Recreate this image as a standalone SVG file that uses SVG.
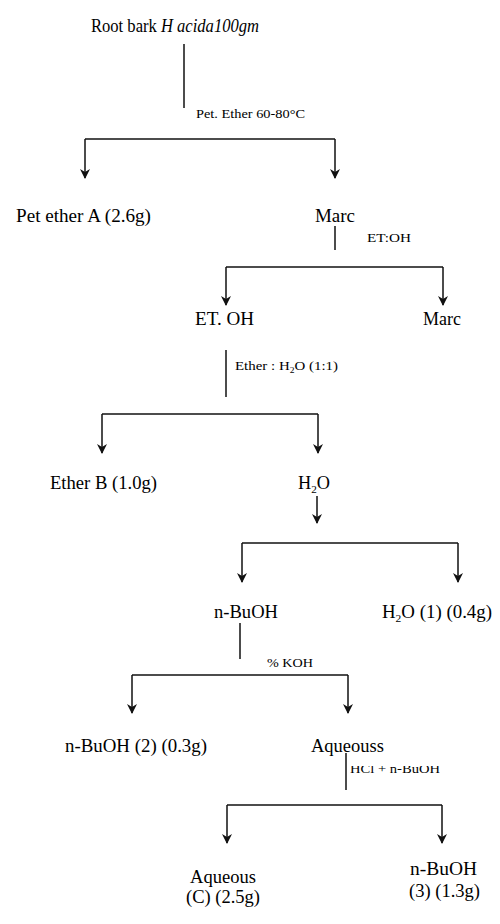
<svg xmlns="http://www.w3.org/2000/svg" width="500" height="924" viewBox="0 0 500 924">
<style>
  text { font-family: "Liberation Serif", "Times New Roman", serif; fill: #000; }
  .n { font-size: 18px; }
  .s { font-size: 12.5px; }
  .ln { stroke: #111; stroke-width: 1.5; fill: none; }
  .ar { stroke: #111; stroke-width: 1.5; fill: none; marker-end: url(#ah); }
</style>
<defs>
  <marker id="ah" markerUnits="userSpaceOnUse" viewBox="0 0 10 10" refX="9" refY="5" markerWidth="10" markerHeight="10" orient="auto">
    <path d="M0,0 L10,5 L0,10 L3,5 z" fill="#111"/>
  </marker>
  <clipPath id="clipHCl"><rect x="345" y="766" width="110" height="12"/></clipPath>
</defs>
<rect width="500" height="924" fill="#fff"/>
<g id="connectors">
  <path class="ln" d="M184,44 V108"/>
  <path class="ln" d="M85,139 H335"/>
  <path class="ar" d="M85,139 V178"/>
  <path class="ar" d="M335,139 V178"/>
  <path class="ln" d="M335,226 V250"/>
  <path class="ln" d="M226,267 H443"/>
  <path class="ar" d="M226,267 V305"/>
  <path class="ar" d="M443,267 V305"/>
  <path class="ln" d="M226,350 V397"/>
  <path class="ln" d="M102,414 H318"/>
  <path class="ar" d="M102,414 V453"/>
  <path class="ar" d="M318,414 V453"/>
  <path class="ar" d="M317,496 V523"/>
  <path class="ln" d="M242,543 H458"/>
  <path class="ar" d="M242,543 V582"/>
  <path class="ar" d="M458,543 V582"/>
  <path class="ln" d="M240,623 V659"/>
  <path class="ln" d="M132,675 H348"/>
  <path class="ar" d="M132,675 V713"/>
  <path class="ar" d="M348,675 V713"/>
  <path class="ln" d="M346,753 V790"/>
  <path class="ln" d="M227,805 H442"/>
  <path class="ar" d="M227,805 V843"/>
  <path class="ar" d="M442,805 V843"/>
</g>
<g id="labels">
  <text class="s" x="196" y="118" textLength="109" lengthAdjust="spacingAndGlyphs">Pet. Ether 60-80°C</text>
  <text class="s" x="367" y="242" textLength="44" lengthAdjust="spacingAndGlyphs">ET:OH</text>
  <text class="s" x="235" y="370" textLength="103" lengthAdjust="spacingAndGlyphs">Ether : H<tspan font-size="8" dy="3">2</tspan><tspan dy="-3">O  (1:1)</tspan></text>
  <text class="s" x="267" y="667" textLength="46" lengthAdjust="spacingAndGlyphs">% KOH</text>
  <text class="s" x="350" y="773" textLength="90" lengthAdjust="spacingAndGlyphs" clip-path="url(#clipHCl)">HCl + n-BuOH</text>
</g>
<g id="root"><text class="n" x="91" y="32" textLength="168" lengthAdjust="spacingAndGlyphs">Root bark <tspan font-style="italic">H acida100gm</tspan></text></g>
<g id="petA"><text class="n" x="16" y="222" textLength="135" lengthAdjust="spacingAndGlyphs">Pet ether A (2.6g)</text></g>
<g id="marc1"><text class="n" x="315" y="222" textLength="40" lengthAdjust="spacingAndGlyphs">Marc</text></g>
<g id="etoh"><text class="n" x="195" y="325" textLength="59" lengthAdjust="spacingAndGlyphs">ET. OH</text></g>
<g id="marc2"><text class="n" x="423" y="325" textLength="38" lengthAdjust="spacingAndGlyphs">Marc</text></g>
<g id="etherB"><text class="n" x="50" y="489" textLength="107" lengthAdjust="spacingAndGlyphs">Ether B (1.0g)</text></g>
<g id="h2o"><text class="n" x="298" y="489" textLength="32" lengthAdjust="spacingAndGlyphs">H<tspan font-size="11" dy="4">2</tspan><tspan dy="-4">O</tspan></text></g>
<g id="nbuoh"><text class="n" x="214" y="618" textLength="64" lengthAdjust="spacingAndGlyphs">n-BuOH</text></g>
<g id="h2o1"><text class="n" x="382" y="618" textLength="110" lengthAdjust="spacingAndGlyphs">H<tspan font-size="11" dy="4">2</tspan><tspan dy="-4">O (1) (0.4g)</tspan></text></g>
<g id="nbuoh2"><text class="n" x="65" y="752" textLength="142" lengthAdjust="spacingAndGlyphs">n-BuOH (2) (0.3g)</text></g>
<g id="aqueouss"><text class="n" x="311" y="752" textLength="73" lengthAdjust="spacingAndGlyphs">Aqueouss</text></g>
<g id="aqueousC">
  <text class="n" x="190" y="883" textLength="66" lengthAdjust="spacingAndGlyphs">Aqueous</text>
  <text class="n" x="186" y="903" textLength="74" lengthAdjust="spacingAndGlyphs">(C) (2.5g)</text>
</g>
<g id="nbuoh3">
  <text class="n" x="410" y="875" textLength="67" lengthAdjust="spacingAndGlyphs">n-BuOH</text>
  <text class="n" x="409" y="897" textLength="71" lengthAdjust="spacingAndGlyphs">(3) (1.3g)</text>
</g>
</svg>
